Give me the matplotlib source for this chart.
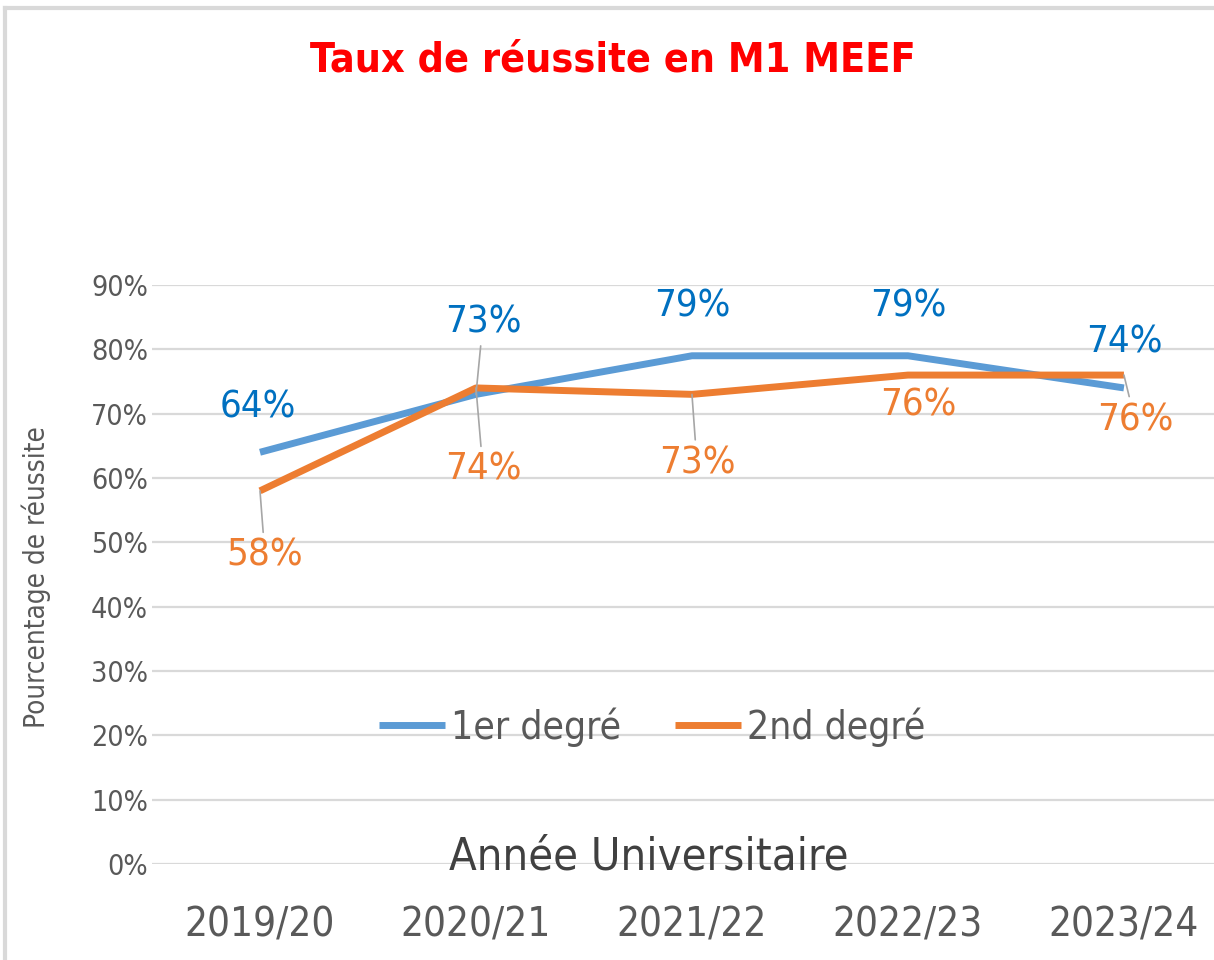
import matplotlib.pyplot as plt
from matplotlib.lines import Line2D

# data
annees = ['2019/20', '2020/21', '2021/22', '2022/23', '2023/24']
premier_degre = [0.64, 0.73, 0.79, 0.79, 0.74]
second_degre = [0.58, 0.74, 0.73, 0.76, 0.76]
y_ticks = [0, 0.1, 0.2, 0.3, 0.4, 0.5, 0.6, 0.7, 0.8, 0.9]

# label placement (pixel offsets from each point) and leader line flags
off_premier = [(-2, 45), (7, 72), (0, 49), (0, 49), (0, 45)]
lead_premier = [False, True, False, False, False]
off_second = [(5, -65), (7, -82), (5, -69), (10, -30), (11, -45)]
lead_second = [True, True, True, False, True]

plt.rcParams['font.family'] = ['DejaVu Sans']
plt.rcParams['font.stretch'] = 'condensed'

BLUE = '#5B9BD5'
ORANGE = '#ED7D31'
GREY_TXT = '#595959'

fig = plt.figure(figsize=(12.14, 9.6), dpi=100)
ax = fig.add_axes([152 / 1214, 96 / 960, 1 - 152 / 1214, (864 - 285) / 960])

x = list(range(len(annees)))
ax.plot(x, premier_degre, color=BLUE, lw=5, solid_capstyle='butt', label='1er degré', zorder=3)
ax.plot(x, second_degre, color=ORANGE, lw=5, solid_capstyle='butt', label='2nd degré', zorder=3)

ax.set_xlim(-0.5, 4.417)
ax.set_ylim(0, 0.9)
ax.set_yticks(y_ticks)
ax.set_yticklabels([f'{int(round(t * 100))}%' for t in y_ticks], color=GREY_TXT, fontsize=20.5)
ax.set_xticks(x)
ax.set_xticklabels(annees, color=GREY_TXT, fontsize=29)
ax.tick_params(axis='both', length=0)
ax.tick_params(axis='y', pad=3)
ax.tick_params(axis='x', pad=30)
ax.grid(axis='y', color='#D9D9D9', lw=1.6)
ax.set_axisbelow(True)
for s in ax.spines.values():
    s.set_visible(False)


def labels(vals, offs, leads, color):
    for i, v in enumerate(vals):
        dx, dy = offs[i]
        arrow = None
        if leads[i]:
            arrow = dict(arrowstyle='-', color='#A6A6A6', lw=1.2, shrinkA=2, shrinkB=0)
        ax.annotate(f'{int(round(v * 100))}%', xy=(i, v), xytext=(dx, dy),
                    textcoords='offset pixels', ha='center', va='center',
                    fontsize=27.5, color=color, arrowprops=arrow, zorder=4)


labels(premier_degre, off_premier, lead_premier, '#0070C0')
labels(second_degre, off_second, lead_second, ORANGE)

# title, axis titles
fig.text(613 / 1214, 1 - 60 / 960, 'Taux de réussite en M1 MEEF', ha='center', va='center',
         fontsize=29.5, fontweight='bold', color='#FF0000')
fig.text(36 / 1214, 1 - 577 / 960, 'Pourcentage de réussite', rotation=90, ha='center',
         va='center', fontsize=20, color=GREY_TXT)
fig.text(649 / 1214, 1 - 857 / 960, 'Année Universitaire', ha='center', va='center',
         fontsize=32.5, color='#404040')

fig.legend(loc='center', bbox_to_anchor=(652 / 1214, 1 - 727 / 960), ncol=2, frameon=False,
           fontsize=28, labelcolor=GREY_TXT, handlelength=1.7, handletextpad=0.15,
           columnspacing=1.4)

# light frame of the chart area (cut off on the right and bottom)
fig.add_artist(Line2D([5 / 1214, 1], [1 - 8 / 960, 1 - 8 / 960], color='#D9D9D9', lw=3))
fig.add_artist(Line2D([5 / 1214, 5 / 1214], [0, 1 - 8 / 960], color='#D9D9D9', lw=3))

fig.savefig('out.png', dpi=100)
